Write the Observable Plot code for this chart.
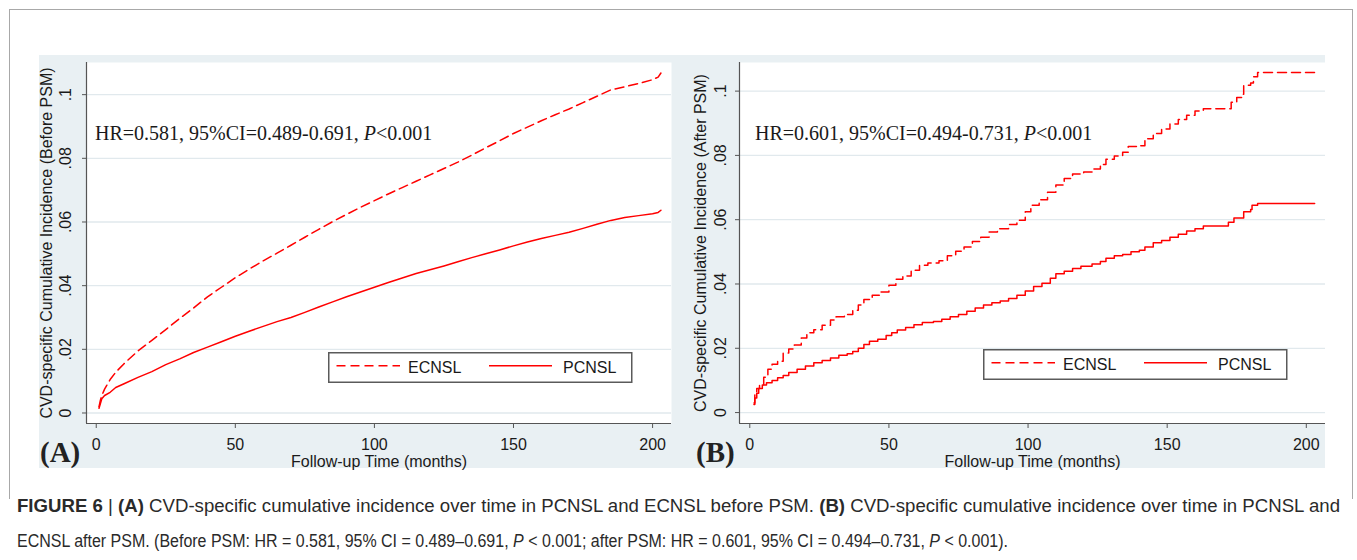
<!DOCTYPE html>
<html>
<head>
<meta charset="utf-8">
<script src="https://cdn.jsdelivr.net/npm/d3@7"></script>
<script src="https://cdn.jsdelivr.net/npm/@observablehq/plot@0.6"></script>
<style>
  html, body { margin: 0; padding: 0; background: #fff; }
  #page { position: relative; width: 1357px; height: 560px; overflow: hidden; font-family: Arial, "Liberation Sans", sans-serif; }
  .abs { position: absolute; }
  #frame { left: 9px; top: 9px; width: 1344px; height: 490px; border: 1px solid #a8a8a8; border-bottom: none; box-sizing: border-box; }
  #bg { left: 39px; top: 55px; width: 1286px; height: 413px; background: #e9f0f3; }
  .hr { font-family: "Liberation Serif", "Times New Roman", serif; font-size: 20px; color: #1a1a1a; white-space: nowrap; line-height: 20px; }
  .tag { font-family: "Liberation Serif", "Times New Roman", serif; font-weight: bold; font-size: 29px; color: #222; line-height: 29px; }
  .cap { font-size: 17.5px; color: #2a2a2a; white-space: nowrap; transform-origin: 0 50%; line-height: 20px; }
</style>
</head>
<body>
<div id="page">
  <div id="frame" class="abs"></div>
  <div id="bg" class="abs"></div>
</div>
<script>
// ---------------- data ----------------
const xTicks = [0, 50, 100, 150, 200];
const yTicks = [0, 0.02, 0.04, 0.06, 0.08, 0.1];
const seriesNames = ["ECNSL", "PCNSL"];

// Panel A (before PSM)
const beforeEcnslMonths = [1, 1.5, 2, 3, 5, 7, 10, 15, 20, 25, 30, 35, 40, 45, 50, 55, 60, 65, 70, 75, 80, 85, 90, 95, 100, 105, 110, 115, 120, 125, 130, 135, 140, 145, 150, 155, 160, 165, 170, 175, 180, 185, 190, 195, 200, 202, 203];
const beforeEcnslValues = [0.002, 0.004, 0.0055, 0.0075, 0.0105, 0.0128, 0.0155, 0.0195, 0.0228, 0.0262, 0.0297, 0.033, 0.0365, 0.0395, 0.0425, 0.0452, 0.0478, 0.0502, 0.0527, 0.0552, 0.0577, 0.0601, 0.0624, 0.0646, 0.0667, 0.0688, 0.0708, 0.0728, 0.0748, 0.0768, 0.0788, 0.081, 0.0833, 0.0855, 0.0878, 0.0898, 0.0918, 0.0937, 0.0955, 0.0975, 0.0995, 0.1015, 0.1025, 0.1035, 0.1047, 0.1055, 0.1068];
const beforePcnslMonths = [1, 1.5, 2, 3, 5, 7, 10, 15, 20, 25, 30, 35, 40, 45, 50, 55, 60, 65, 70, 75, 80, 85, 90, 95, 100, 105, 110, 115, 120, 125, 130, 135, 140, 145, 150, 155, 160, 165, 170, 175, 180, 185, 190, 195, 200, 202, 203];
const beforePcnslValues = [0.0015, 0.003, 0.0045, 0.0055, 0.0065, 0.008, 0.0092, 0.0112, 0.013, 0.0152, 0.017, 0.019, 0.0207, 0.0224, 0.0241, 0.0257, 0.0272, 0.0287, 0.03, 0.0316, 0.0333, 0.0349, 0.0365, 0.038, 0.0395, 0.041, 0.0424, 0.0438, 0.045, 0.0462, 0.0475, 0.0488, 0.05, 0.0512, 0.0525, 0.0537, 0.0548, 0.0558, 0.0568, 0.058, 0.0593, 0.0605, 0.0614, 0.062, 0.0626, 0.063, 0.0637];

// Panel B (after PSM)
const afterEcnslMonths = [1.5, 1.8, 2.5, 3.5, 5, 6.5, 8, 10, 12, 14, 16, 18.5, 20.5, 23, 26, 29, 31, 34, 37, 39, 41, 44, 47, 50, 52.5, 55, 58, 61, 64, 68, 71, 74, 77, 80, 83, 86, 89, 93, 96, 99, 101, 104, 107, 110, 113, 116, 120, 123, 126, 128, 131, 134, 136, 140, 142, 145, 148, 151, 154, 157, 160, 163, 171, 173, 175, 177, 177.5, 180, 181, 182.5, 203];
const afterEcnslValues = [0.003, 0.0055, 0.0075, 0.0085, 0.011, 0.0135, 0.015, 0.016, 0.0185, 0.0198, 0.021, 0.0232, 0.0248, 0.0258, 0.0272, 0.0288, 0.0298, 0.0305, 0.0318, 0.0335, 0.0352, 0.0365, 0.0375, 0.0396, 0.0415, 0.0425, 0.0443, 0.0458, 0.0465, 0.0472, 0.0488, 0.0502, 0.0515, 0.0532, 0.0545, 0.0562, 0.0572, 0.0585, 0.0598, 0.0625, 0.0645, 0.0662, 0.0685, 0.0708, 0.0728, 0.0742, 0.0748, 0.0758, 0.0772, 0.0788, 0.0798, 0.081, 0.0828, 0.083, 0.0852, 0.0868, 0.0882, 0.0898, 0.0912, 0.0925, 0.0938, 0.0945, 0.0945, 0.0965, 0.098, 0.099, 0.1018, 0.1025, 0.1045, 0.1058, 0.1058];
const afterPcnslMonths = [1.5, 1.8, 2.5, 3.2, 4.5, 6, 8, 10, 12, 14, 17, 20, 23, 26, 29, 32, 35, 37, 39, 41, 43, 46, 49, 51, 53, 56, 59, 62, 66, 69, 72, 75, 78, 81, 84, 87, 90, 93, 96, 99, 102, 105, 108, 110, 113, 116, 119, 123, 126, 128, 131, 134, 137, 140, 142, 145, 148, 151, 154, 157, 160, 163, 170, 172, 174, 177, 177.5, 180, 180.5, 182.5, 203];
const afterPcnslValues = [0.0025, 0.0045, 0.006, 0.0075, 0.0086, 0.0093, 0.01, 0.0108, 0.0115, 0.0125, 0.0135, 0.0145, 0.0155, 0.0162, 0.017, 0.0178, 0.0183, 0.019, 0.02, 0.0212, 0.0222, 0.0228, 0.024, 0.0248, 0.0257, 0.0265, 0.0273, 0.028, 0.0283, 0.029, 0.0298, 0.0305, 0.0315, 0.0325, 0.0335, 0.0342, 0.0347, 0.0355, 0.0365, 0.0378, 0.0392, 0.0402, 0.0418, 0.0432, 0.044, 0.0448, 0.0455, 0.0462, 0.047, 0.048, 0.0488, 0.0492, 0.05, 0.0505, 0.0515, 0.0528, 0.0535, 0.0545, 0.0555, 0.0565, 0.0572, 0.058, 0.058, 0.0592, 0.0605, 0.0605, 0.0625, 0.0632, 0.0645, 0.065, 0.065];

const hrTexts = ["HR=0.581, 95%CI=0.489-0.691, ", "HR=0.601, 95%CI=0.494-0.731, "];
const yTitles = ["CVD-specific Cumulative Incidence (Before PSM)", "CVD-specific Cumulative Incidence (After PSM)"];
const xTitle = "Follow-up Time (months)";
const panelTags = ["(A)", "(B)"];

// ---------------- drawing ----------------
const page = document.getElementById("page");
const RED = "#ff0000";
const DASH = "9,5";
const fmtY = d => d === 0 ? "0" : d3.format(".2~f")(d).replace(/^0/, "");
const toRows = (ms, vs) => ms.map((m, i) => ({m, v: vs[i]}));

function panel(opts) {
  const {left, width, mL, mR, xDom, yDom, ecnsl, pcnsl, curve, yTitle, yLabelOffset, tickPad} = opts;
  const svg = Plot.plot({
    width, height: 413,
    marginLeft: mL, marginRight: mR, marginTop: 7, marginBottom: 45,
    x: {domain: xDom},
    y: {domain: yDom},
    style: {background: "transparent", fontFamily: "Arial, 'Liberation Sans', sans-serif", fontSize: "16px", color: "#1a1a1a", overflow: "visible"},
    marks: [
      Plot.frame({fill: "white", stroke: null}),
      Plot.gridY(yTicks, {stroke: "#e1e9ed", strokeOpacity: 1, strokeWidth: 1.3}),
      Plot.axisY(yTicks, {tickFormat: fmtY, tickRotate: -90, tickSize: 4, tickPadding: tickPad, stroke: "#555",
        label: yTitle, labelAnchor: "center", labelArrow: "none", labelOffset: yLabelOffset}),
      Plot.axisX(xTicks, {tickSize: 5, tickPadding: 10, stroke: "#555",
        label: xTitle, labelAnchor: "center", labelArrow: "none", labelOffset: 43}),
      Plot.ruleX([xDom[0]], {stroke: "#555", strokeWidth: 1.2}),
      Plot.ruleY([yDom[0]], {stroke: "#555", strokeWidth: 1.2}),
      Plot.line(pcnsl, {x: "m", y: "v", stroke: RED, strokeWidth: 1.5, curve}),
      Plot.line(ecnsl, {x: "m", y: "v", stroke: RED, strokeWidth: 1.5, strokeDasharray: DASH, curve})
    ]
  });
  svg.style.position = "absolute";
  svg.style.left = left + "px";
  svg.style.top = "55px";
  page.appendChild(svg);
}

panel({left: 39, width: 645, mL: 47, mR: 13, xDom: [-3.5, 206.8], yDom: [-0.0033, 0.1101],
  ecnsl: toRows(beforeEcnslMonths, beforeEcnslValues), pcnsl: toRows(beforePcnslMonths, beforePcnslValues),
  curve: "linear", yTitle: yTitles[0], yLabelOffset: 46, tickPad: 12});
panel({left: 684, width: 641, mL: 55, mR: 0, xDom: [-3.7, 206.9], yDom: [-0.0034, 0.1089],
  ecnsl: toRows(afterEcnslMonths, afterEcnslValues), pcnsl: toRows(afterPcnslMonths, afterPcnslValues),
  curve: "step-after", yTitle: yTitles[1], yLabelOffset: 44.5, tickPad: 10});

// HR annotations
function addHR(text, left, top) {
  const d = document.createElement("div");
  d.className = "abs hr";
  d.style.left = left + "px"; d.style.top = top + "px";
  d.innerHTML = text + "<i>P</i>&lt;0.001";
  page.appendChild(d);
}
addHR(hrTexts[0], 95, 123);
addHR(hrTexts[1], 755, 123);

// panel tags
function addTag(t, left) {
  const d = document.createElement("div");
  d.className = "abs tag";
  d.style.left = left + "px"; d.style.top = "438px";
  d.textContent = t;
  page.appendChild(d);
}
addTag(panelTags[0], 40);
addTag(panelTags[1], 696);

// legends
function addLegend(left, top) {
  const ns = "http://www.w3.org/2000/svg";
  const s = document.createElementNS(ns, "svg");
  s.setAttribute("width", 306); s.setAttribute("height", 32);
  s.style.position = "absolute"; s.style.left = left + "px"; s.style.top = top + "px";
  s.innerHTML =
    `<rect x="0.75" y="0.75" width="303" height="29.5" fill="#fff" stroke="#5a5a5a" stroke-width="1.5"/>` +
    `<line x1="8.5" x2="72" y1="13.7" y2="13.7" stroke="${RED}" stroke-width="1.5" stroke-dasharray="${DASH}"/>` +
    `<text x="80" y="20.5" font-family="Arial, 'Liberation Sans', sans-serif" font-size="16" fill="#1a1a1a">${seriesNames[0]}</text>` +
    `<line x1="161" x2="224" y1="13.7" y2="13.7" stroke="${RED}" stroke-width="1.5"/>` +
    `<text x="235" y="20.5" font-family="Arial, 'Liberation Sans', sans-serif" font-size="16" fill="#1a1a1a">${seriesNames[1]}</text>`;
  page.appendChild(s);
}
addLegend(328, 352);
addLegend(983, 349);

// caption
const capLines = [
  {html: "<b>FIGURE 6</b> | <b>(A)</b> CVD-specific cumulative incidence over time in PCNSL and ECNSL before PSM. <b>(B)</b> CVD-specific cumulative incidence over time in PCNSL and", top: 496, w: 1323},
  {html: "ECNSL after PSM. (Before PSM: HR = 0.581, 95% CI = 0.489–0.691, <i>P</i> &lt; 0.001; after PSM: HR = 0.601, 95% CI = 0.494–0.731, <i>P</i> &lt; 0.001).", top: 531, w: 991}
];
capLines.forEach(c => {
  const d = document.createElement("div");
  d.className = "abs cap";
  d.style.left = "17px"; d.style.top = c.top + "px";
  d.innerHTML = c.html;
  page.appendChild(d);
  const w = d.getBoundingClientRect().width;
  d.style.transform = `scaleX(${c.w / w})`;
});
</script>
</body>
</html>
